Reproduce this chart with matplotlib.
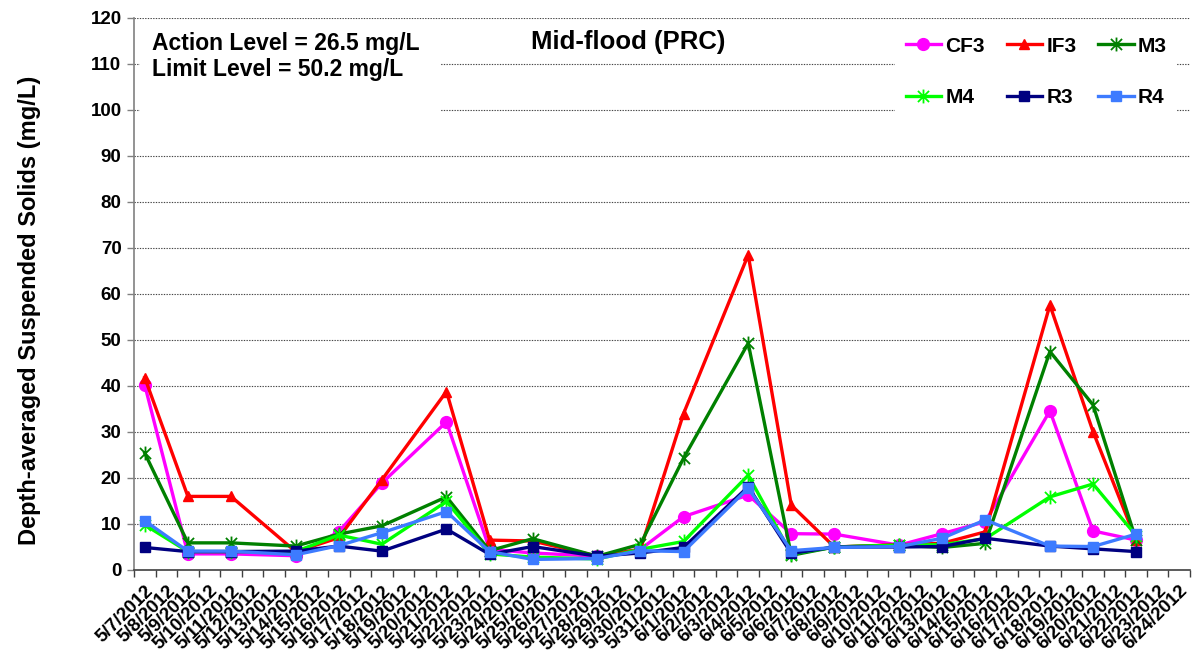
import matplotlib
matplotlib.use("Agg")
import matplotlib.pyplot as plt
import pandas as pd
from matplotlib.path import Path
from matplotlib.patches import Rectangle

plt.rcParams['font.family'] = ['Liberation Sans', 'DejaVu Sans']
plt.rcParams['font.weight'] = 'bold'

# Category axis: every day of the monitoring period
axis_days = pd.date_range("2012-05-07", "2012-06-24", freq="D")
day_labels = [f"{d.month}/{d.day}/{d.year}" for d in axis_days]

# Sampling days
sample_days = ["2012-05-07", "2012-05-09", "2012-05-11", "2012-05-14", "2012-05-16",
               "2012-05-18", "2012-05-21", "2012-05-23", "2012-05-25", "2012-05-28",
               "2012-05-30", "2012-06-01", "2012-06-04", "2012-06-06", "2012-06-08",
               "2012-06-11", "2012-06-13", "2012-06-15", "2012-06-18", "2012-06-20",
               "2012-06-22"]

# Depth-averaged suspended solids (mg/L), mid-flood
cf3 = [40.2, 3.5, 3.5, 3.1, 8.3, 18.9, 32.2, 4.5, 3.7, 3.0, 4.5, 11.6, 16.3, 7.9, 7.8,
       5.4, 7.9, 10.5, 34.6, 8.5, 6.5]
if3 = [41.8, 16.0, 16.0, 4.0, 7.0, 19.6, 38.8, 6.5, 6.3, 3.0, 4.5, 34.0, 68.5, 14.1, 5.0,
       5.5, 5.8, 8.3, 57.6, 30.1, 6.5]
m3 = [25.4, 5.9, 5.9, 5.2, 7.8, 9.6, 15.9, 4.2, 6.8, 3.0, 5.6, 24.3, 49.3, 3.2, 5.0,
      5.4, 4.9, 5.8, 47.5, 35.9, 6.5]
m4 = [9.8, 4.0, 4.0, 4.0, 7.6, 5.6, 14.9, 3.5, 2.8, 2.4, 4.5, 6.2, 20.6, 3.5, 5.0,
      5.4, 5.5, 6.8, 15.9, 18.7, 7.5]
r3 = [4.9, 4.0, 4.0, 4.1, 5.2, 4.1, 8.9, 3.4, 5.1, 3.0, 3.7, 4.9, 18.1, 3.6, 5.0,
      5.0, 5.1, 6.9, 5.2, 4.6, 4.0]
r4 = [10.7, 4.1, 4.1, 3.3, 5.3, 8.1, 12.7, 4.0, 2.3, 2.5, 4.2, 4.0, 17.8, 4.2, 4.9,
      5.1, 6.9, 10.9, 5.2, 5.1, 7.8]

series_names = ["CF3", "IF3", "M3", "M4", "R3", "R4"]
series_values = [cf3, if3, m3, m4, r3, r4]

# Asterisk marker: an X crossed by a vertical bar
asterisk = Path(
    [(-1, -1), (1, 1), (-1, 1), (1, -1), (0, -1.25), (0, 1.25)],
    [Path.MOVETO, Path.LINETO, Path.MOVETO, Path.LINETO, Path.MOVETO, Path.LINETO],
)

styles = {
    "CF3": dict(color="#FF00FF", marker="o", ms=8.5),
    "IF3": dict(color="#FF0000", marker="^", ms=7.5),
    "M3": dict(color="#008000", marker=asterisk, ms=10, mew=1.3),
    "M4": dict(color="#00FF00", marker=asterisk, ms=10, mew=1.3),
    "R3": dict(color="#000080", marker="s", ms=7.5),
    "R4": dict(color="#3D7BFF", marker="s", ms=7.5),
}

fig = plt.figure(figsize=(11.96, 6.57), dpi=100)
ax = fig.add_axes([134 / 1196, 1 - 570 / 657, 1056 / 1196, 552 / 657])

pos = {d: i for i, d in enumerate(axis_days.strftime("%Y-%m-%d"))}
xs = [pos[d] for d in sample_days]

handles = {}
for name, vals in zip(series_names, series_values):
    st = styles[name]
    (h,) = ax.plot(xs, vals, color=st["color"], lw=2.4, marker=st["marker"],
                   ms=st["ms"], mew=st.get("mew", 1), mfc=st["color"], mec=st["color"],
                   label=name, zorder=3)
    handles[name] = h

ax.set_xlim(-0.5, len(axis_days) - 0.5)
ax.set_ylim(0, 120)
ax.set_yticks(range(0, 121, 10))
ax.set_axisbelow(True)
ax.yaxis.grid(True, color="#444444", linestyle=(0, (1.2, 1.2)), lw=0.8)

ax.set_xticks(range(len(axis_days)))
ax.set_xticklabels(day_labels, rotation=45, ha="right", rotation_mode="anchor",
                   fontsize=13.5, fontweight="bold")
ax.set_xticks([i - 0.5 for i in range(len(axis_days) + 1)], minor=True)
ax.tick_params(axis="x", which="major", length=0, pad=9)
ax.tick_params(axis="x", which="minor", length=5, color="#404040", width=1)
ax.tick_params(axis="y", length=5, color="#808080", width=1, labelsize=13.5, pad=4)
for lab in ax.get_yticklabels():
    lab.set_fontweight("bold")

for s in ("top", "right"):
    ax.spines[s].set_visible(False)
ax.spines["left"].set_color("#808080")
ax.spines["left"].set_linewidth(1.2)
ax.spines["bottom"].set_color("#404040")
ax.spines["bottom"].set_linewidth(1.2)

# White panel behind the level notes
ax.add_patch(Rectangle((0.006, 0.78), 0.284, 0.21, transform=ax.transAxes,
                       facecolor="white", edgecolor="none", zorder=1))
ax.text(0.017, 0.975, "Action Level = 26.5 mg/L\nLimit Level = 50.2 mg/L",
        transform=ax.transAxes, ha="left", va="top", fontsize=16.5,
        fontweight="bold", linespacing=1.15, zorder=4)
ax.text(0.468, 0.957, "Mid-flood (PRC)", transform=ax.transAxes, ha="center",
        va="center", fontsize=18.5, fontweight="bold", zorder=4)

# Legend filled row by row: CF3 IF3 M3 / M4 R3 R4
leg_order = ["CF3", "M4", "IF3", "R3", "M3", "R4"]
leg = ax.legend([handles[n] for n in leg_order], leg_order,
                loc="upper right", bbox_to_anchor=(0.988, 0.985), ncol=3,
                fontsize=15, frameon=True, fancybox=False, handlelength=1.7,
                handletextpad=0.2, columnspacing=1.05, labelspacing=1.55,
                borderpad=0.5, borderaxespad=0.0)
leg.get_frame().set_facecolor("white")
leg.get_frame().set_edgecolor("none")
leg.get_frame().set_alpha(1)
for t in leg.get_texts():
    t.set_fontweight("bold")

fig.text(30 / 1196, 1 - 310 / 657, "Depth-averaged Suspended Solids (mg/L)",
         rotation=90, ha="center", va="center", fontsize=17, fontweight="bold")

fig.savefig("out.png", dpi=100)
